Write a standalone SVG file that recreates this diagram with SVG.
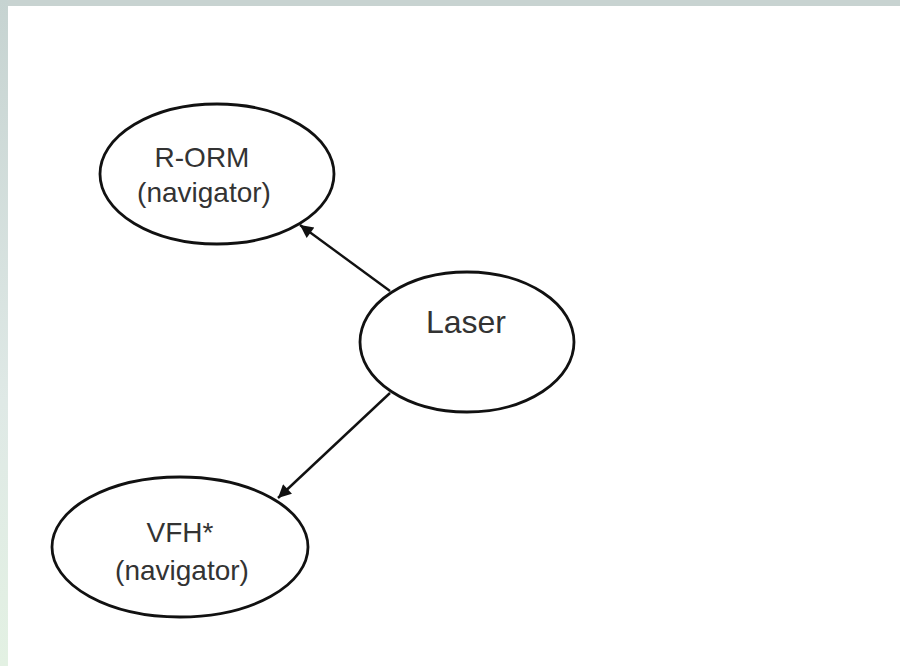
<svg xmlns="http://www.w3.org/2000/svg" width="900" height="666" viewBox="0 0 900 666">
<defs>
<linearGradient id="lg" x1="0" y1="0" x2="0" y2="1">
<stop offset="0" stop-color="#c6d3d1"/>
<stop offset="0.6" stop-color="#dfe9e6"/>
<stop offset="1" stop-color="#e3f1e3"/>
</linearGradient>
<marker id="ah" viewBox="0 0 10 10" refX="10" refY="5" markerWidth="19" markerHeight="13" markerUnits="userSpaceOnUse" orient="auto">
<path d="M0,0 L10,5 L0,10 Z" fill="#111"/>
</marker>
<style>
.n ellipse{fill:#fff;stroke:#111;stroke-width:2.8}
.n text{font-family:"Liberation Sans",Arial,sans-serif;font-size:28px;fill:#333;text-anchor:middle}
.c line{stroke:#111;stroke-width:2.4;marker-end:url(#ah)}
</style>
</defs>
<rect width="900" height="666" fill="#fff"/>
<rect x="0" y="0" width="900" height="6" fill="#c8d3d1"/>
<rect x="0" y="0" width="8" height="666" fill="url(#lg)"/>
<g class="c" id="connectors">
<line x1="390" y1="291" x2="300" y2="225"/>
<line x1="390" y1="393" x2="278" y2="498"/>
</g>
<g class="n" id="rorm">
<ellipse cx="217" cy="174" rx="117" ry="70"/>
<text x="202" y="167">R-ORM</text>
<text x="204" y="202">(navigator)</text>
</g>
<g class="n" id="laser">
<ellipse cx="467" cy="342" rx="107" ry="70"/>
<text x="466" y="333" style="font-size:32px">Laser</text>
</g>
<g class="n" id="vfh">
<ellipse cx="180" cy="547" rx="128" ry="70"/>
<text x="180" y="542">VFH*</text>
<text x="182" y="580">(navigator)</text>
</g>
</svg>
